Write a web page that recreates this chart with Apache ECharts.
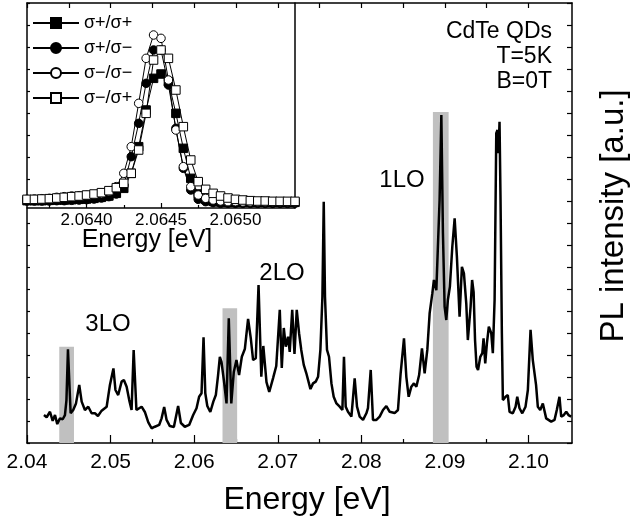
<!DOCTYPE html>
<html><head><meta charset="utf-8">
<script src="https://cdn.jsdelivr.net/npm/echarts@6/dist/echarts.min.js"></script>
<style>html,body{margin:0;padding:0;background:#fff}#c{width:633px;height:522px}</style>
</head><body><div id="c"></div>
<script>
// ---- main spectrum ----
const energy = [
2.04203,2.04235,2.04275,2.04307,2.04335,2.04362,2.04394,2.04427,2.04454,2.04472,
2.04490,2.04522,2.04553,2.04586,2.04625,2.04654,2.04693,2.04733,2.04773,2.04813,
2.04849,2.04893,2.04953,2.04992,2.05034,2.05058,2.05091,2.05132,2.05159,2.05192,
2.05223,2.05251,2.05276,2.05309,2.05371,2.05410,2.05450,2.05490,2.05530,2.05581,
2.05610,2.05641,2.05670,2.05709,2.05757,2.05808,2.05841,2.05888,2.05940,2.05988,
2.06028,2.06059,2.06088,2.06112,2.06133,2.06157,2.06193,2.06229,2.06259,2.06286,
2.06307,2.06327,2.06355,2.06387,2.06414,2.06444,2.06474,2.06506,2.06537,2.06570,
2.06606,2.06645,2.06677,2.06705,2.06737,2.06770,2.06803,2.06827,2.06865,2.06898,
2.06944,2.06982,2.07024,2.07048,2.07072,2.07096,2.07123,2.07143,2.07173,2.07200,
2.07227,2.07255,2.07281,2.07311,2.07341,2.07362,2.07391,2.07422,2.07454,2.07482,
2.07510,2.07534,2.07550,2.07565,2.07589,2.07613,2.07642,2.07669,2.07702,2.07741,
2.07773,2.07792,2.07813,2.07840,2.07881,2.07920,2.07948,2.07980,2.08020,2.08060,
2.08079,2.08112,2.08139,2.08180,2.08219,2.08259,2.08299,2.08339,2.08398,2.08438,
2.08470,2.08510,2.08538,2.08566,2.08598,2.08629,2.08658,2.08691,2.08725,2.08757,
2.08789,2.08817,2.08849,2.08868,2.08897,2.08916,2.08936,2.08957,2.08976,2.08996,
2.09016,2.09035,2.09059,2.09088,2.09116,2.09143,2.09175,2.09203,2.09227,2.09255,
2.09274,2.09307,2.09325,2.09343,2.09360,2.09378,2.09396,2.09423,2.09447,2.09462,
2.09482,2.09502,2.09525,2.09554,2.09573,2.09594,2.09614,2.09629,2.09641,2.09653,
2.09665,2.09681,2.09693,2.09725,2.09752,2.09773,2.09812,2.09845,2.09865,2.09892,
2.09925,2.09964,2.09992,2.10024,2.10051,2.10072,2.10090,2.10111,2.10140,2.10171,
2.10211,2.10271,2.10311,2.10338,2.10370,2.10391,2.10422,2.10451,2.10478,2.10510
];
const intensity = [
1.27,1.17,1.42,1.01,1.27,0.86,1.12,1.08,1.27,1.95,
4.26,1.35,1.50,1.80,2.64,1.88,1.50,1.65,1.35,1.35,
1.23,1.47,1.65,2.64,3.39,2.41,2.18,2.79,2.86,2.56,
1.95,1.50,4.23,1.50,1.65,1.41,0.95,0.67,0.74,0.82,
1.12,1.64,1.05,0.77,0.73,1.68,0.91,0.74,0.82,1.27,
1.58,2.10,2.26,4.80,2.26,1.68,1.41,1.88,2.18,3.09,
3.92,3.68,2.86,1.80,5.67,1.80,3.23,3.77,3.09,3.92,
4.27,5.64,4.77,3.77,3.85,7.18,3.01,4.41,2.77,2.32,
2.95,3.50,6.05,3.41,5.23,4.38,4.83,4.14,6.05,4.05,
6.05,4.99,4.23,3.55,3.18,3.24,2.45,2.71,2.79,3.01,
4.23,6.65,10.97,6.65,4.23,3.92,2.71,2.10,1.80,1.65,
1.50,3.92,1.65,1.42,1.20,2.94,1.65,1.20,1.05,1.35,
1.58,3.32,1.05,1.05,1.20,1.50,1.68,1.42,1.36,1.50,
3.17,4.76,3.01,2.10,2.56,2.71,2.56,3.09,4.30,3.17,
4.23,5.90,6.80,7.41,6.95,7.03,11.05,14.91,9.53,6.20,
5.59,6.50,7.10,8.92,10.21,8.47,5.74,8.01,7.71,6.35,
4.68,6.20,7.41,6.86,4.68,3.47,3.32,3.92,4.08,4.76,
3.62,4.53,5.29,4.99,4.08,6.50,14.08,14.23,13.17,14.60,
11.05,4.99,1.95,2.10,2.18,1.42,1.35,1.65,2.10,1.58,
1.35,1.65,2.41,5.14,3.77,3.85,2.64,1.65,1.50,1.80,
1.12,0.97,1.05,1.50,2.10,1.20,1.27,1.42,1.27,1.20
];
// shaded LO bands
const bandLabels = ['3LO', '2LO', '1LO'];
const bandStart = [2.04386, 2.06339, 2.08856];
const bandEnd   = [2.04562, 2.06514, 2.09044];
const bandTop   = [4.38, 6.12, 15.05];
// axis ticks
const mainMajorTicks = [2.04, 2.05, 2.06, 2.07, 2.08, 2.09, 2.10];
const mainMinorTicks = [2.045, 2.055, 2.065, 2.075, 2.085, 2.095];
// ---- inset ----
const insetEnergy = [
2.06360,2.06365,2.06370,2.06375,2.06380,2.06385,2.06390,2.06395,2.06400,2.06405,
2.06410,2.06415,2.06420,2.06425,2.06430,2.06435,2.06440,2.06445,2.06450,2.06455,
2.06460,2.06465,2.06470,2.06475,2.06480,2.06485,2.06490,2.06495,2.06500,2.06505,
2.06510,2.06515,2.06520,2.06525,2.06530,2.06535,2.06540
];
const sPlusPlus = [22,22,22,23,24,24,25,26,27,29,32,36,44,59,104,184,294,389,402,379,284,179,89,42,26,20,18,17,17,17,17,17,17,17,17,17,17];
const sPlusMinus = [21,21,21,21,22,22,23,24,25,27,30,34,42,69,154,254,374,474,474,369,239,119,54,26,19,16,14,14,14,14,14,14,14,14,14,14,14];
const sMinusMinus = [26,27,28,29,32,34,36,37,38,40,43,49,64,104,184,314,449,519,509,384,234,124,64,39,29,24,21,19,19,18,18,18,18,18,18,18,18];
const sMinusPlus = [26,26,27,28,30,32,34,36,39,42,46,52,61,74,104,174,284,444,474,449,354,244,144,79,56,44,36,30,26,24,22,21,21,20,20,20,20];
const insetMajorTicks = [2.0640, 2.0645, 2.0650];
const insetMinorTicks = [2.06375, 2.06425, 2.06475, 2.06525];
const legendNames = ['σ+/σ+', 'σ+/σ−', 'σ−/σ−', 'σ−/σ+'];

const FF = "'Liberation Sans', Arial, sans-serif";
const pairs = (xs, ys) => xs.map((x, i) => [x, ys[i]]);

const chart = echarts.init(document.getElementById('c'));
const axLine = {show: true, onZero: false, lineStyle: {color: '#000', width: 1.5}};
const tickStyle = {color: '#000', width: 1.2};

function insetSeries(name, vals, symbol, filled) {
  return {
    name, type: 'line', xAxisIndex: 4, yAxisIndex: 2, data: pairs(insetEnergy, vals),
    symbol, symbolSize: 8.5, showSymbol: true, silent: true, z: 5,
    lineStyle: {color: '#000', width: 1},
    itemStyle: filled ? {color: '#000', borderColor: '#000', borderWidth: 1}
                      : {color: '#fff', borderColor: '#000', borderWidth: 1},
    emphasis: {disabled: true}
  };
}
function txt(x, y, text, size, align, rot) {
  const el = {type: 'text', x, y, style: {text, fill: '#000', font: size + 'px ' + FF,
    textAlign: align, align, textVerticalAlign: 'middle', verticalAlign: 'middle'}};
  if (rot) el.rotation = rot;
  return el;
}

const option = {
  animation: false,
  backgroundColor: '#fff',
  grid: [
    {left: 27, top: 3, width: 545, height: 440},
    {left: 27, top: 3, width: 268, height: 205}
  ],
  xAxis: [
    {gridIndex: 0, type: 'value', min: 2.04, max: 2.1052, position: 'bottom',
     axisLine: axLine,
     axisTick: {inside: true, length: 8, customValues: mainMajorTicks, lineStyle: tickStyle},
     axisLabel: {customValues: mainMajorTicks, formatter: v => v.toFixed(2), fontSize: 21, color: '#000', fontFamily: FF, margin: 9},
     splitLine: {show: false}},
    {gridIndex: 0, type: 'value', min: 2.04, max: 2.1052, position: 'bottom',
     axisLine: {show: false},
     axisTick: {inside: true, length: 4, customValues: mainMinorTicks, lineStyle: tickStyle},
     axisLabel: {show: false}, splitLine: {show: false}},
    {gridIndex: 0, type: 'value', min: 2.04, max: 2.1052, position: 'top',
     axisLine: axLine,
     axisTick: {inside: true, length: 5, customValues: mainMajorTicks.concat(mainMinorTicks), lineStyle: tickStyle},
     axisLabel: {show: false}, splitLine: {show: false}},
    {gridIndex: 1, type: 'value', min: 2.0636, max: 2.0654, position: 'bottom',
     axisLine: {show: false},
     axisTick: {inside: true, length: 3, customValues: insetMinorTicks, lineStyle: tickStyle},
     axisLabel: {show: false}, splitLine: {show: false}},
    {gridIndex: 1, type: 'value', min: 2.0636, max: 2.0654, position: 'bottom',
     axisLine: axLine,
     axisTick: {inside: true, length: 5, customValues: insetMajorTicks, lineStyle: tickStyle},
     axisLabel: {customValues: insetMajorTicks, formatter: v => v.toFixed(4), fontSize: 17, color: '#000', fontFamily: FF, margin: 4},
     splitLine: {show: false}}
  ],
  yAxis: [
    {gridIndex: 0, type: 'value', min: 0, max: 20, interval: 1, position: 'left',
     axisLine: axLine, axisTick: {inside: true, length: 3, lineStyle: tickStyle},
     axisLabel: {show: false}, splitLine: {show: false}},
    {gridIndex: 0, type: 'value', min: 0, max: 20, interval: 1, position: 'right',
     axisLine: axLine, axisTick: {inside: true, length: 5, lineStyle: tickStyle},
     axisLabel: {show: false}, splitLine: {show: false}},
    {gridIndex: 1, type: 'value', min: 0, max: 615, position: 'right',
     axisLine: axLine, axisTick: {show: false},
     axisLabel: {show: false}, splitLine: {show: false}}
  ],
  legend: {
    data: legendNames, orient: 'vertical', left: 27, top: 8,
    itemWidth: 46, itemHeight: 12.5, itemGap: 5, selectedMode: false,
    textStyle: {fontSize: 18, color: '#000', fontFamily: FF, lineHeight: 20}
  },
  series: [
    {type: 'line', xAxisIndex: 0, yAxisIndex: 0, data: [], silent: true, z: 1,
     markArea: {silent: true, itemStyle: {color: '#c0c0c0'},
       data: bandStart.map((s, i) => [{xAxis: s, yAxis: 0}, {xAxis: bandEnd[i], yAxis: bandTop[i]}])}},
    {type: 'line', xAxisIndex: 0, yAxisIndex: 0, data: pairs(energy, intensity),
     showSymbol: false, symbol: 'none', silent: true, z: 3,
     lineStyle: {color: '#000', width: 2.5}, emphasis: {disabled: true}},
    insetSeries(legendNames[0], sPlusPlus, 'rect', true),
    insetSeries(legendNames[1], sPlusMinus, 'circle', true),
    insetSeries(legendNames[2], sMinusMinus, 'circle', false),
    insetSeries(legendNames[3], sMinusPlus, 'rect', false)
  ],
  graphic: [
    txt(108, 324, bandLabels[0], 24, 'center'),
    txt(282, 273, bandLabels[1], 24, 'center'),
    txt(402, 180, bandLabels[2], 24, 'center'),
    txt(552, 32, 'CdTe QDs', 23, 'right'),
    txt(552, 57, 'T=5K', 23, 'right'),
    txt(552, 82, 'B=0T', 23, 'right'),
    txt(307, 500, 'Energy [eV]', 32, 'center'),
    txt(147, 240, 'Energy [eV]', 25, 'center'),
    txt(614, 216, 'PL intensity [a.u.]', 33, 'center', Math.PI / 2)
  ]
};
chart.setOption(option);
</script>
</body></html>
